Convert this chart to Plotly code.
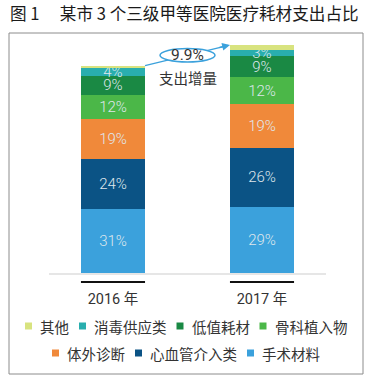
import plotly.graph_objects as go

# ---------------- data ----------------
years = ["2016 年", "2017 年"]
categories = ["手术材料", "心血管介入类", "体外诊断", "骨科植入物", "低值耗材", "消毒供应类", "其他"]
share_2016 = [31, 24, 19, 12, 9, 4, 1]
share_2017 = [29, 26, 19, 12, 9, 3, 2]
show_label = [True, True, True, True, True, True, False]
growth_pct = 9.9
growth_label = "9.9%"
growth_caption = "支出增量"
title_text = "图 1\u3000 某市 3 个三级甲等医院医疗耗材支出占比"
legend_rows = [["其他", "消毒供应类", "低值耗材", "骨科植入物"],
               ["体外诊断", "心血管介入类", "手术材料"]]

colors = {
    "手术材料": "#3ba1dc",
    "心血管介入类": "#0b5385",
    "体外诊断": "#f0893a",
    "骨科植入物": "#4bb748",
    "低值耗材": "#1a8944",
    "消毒供应类": "#29aeae",
    "其他": "#d8e37f",
}

# ---------------- geometry ----------------
W, H = 374, 385
ML, MR, MT, MB = 49, 48, 40, 112
PW, PH = W - ML - MR, H - MT - MB
BW = 0.43
YMAX = 112.3
FONT = "Roboto, 'Noto Sans CJK SC', sans-serif"
CJK = "'Noto Sans CJK SC', sans-serif"


def px(x):
    return (x - ML) / PW


def py(y):
    return (H - MB - y) / PH


scale17 = 1 + growth_pct / 100.0
tot16 = sum(share_2016)
tot17 = sum(share_2017)

fig = go.Figure()
for i, cat in enumerate(categories):
    v16 = share_2016[i] * 100.0 / tot16
    v17 = share_2017[i] * 100.0 / tot17 * scale17
    txt = [f"{share_2016[i]}%", f"{share_2017[i]}%"] if show_label[i] else ["", ""]
    fig.add_trace(go.Bar(
        x=years, y=[v16, v17], name=cat, width=BW,
        marker=dict(color=colors[cat], line=dict(width=0)),
        text=txt, textposition="inside", insidetextanchor="middle",
        textangle=0, textfont=dict(family=FONT, size=15, color="#dfe7ec", weight=300),
        showlegend=False, hoverinfo="name+y",
    ))

top16 = 100.0
top17 = 100.0 * scale17

shapes = []
# frame
shapes.append(dict(type="rect", xref="paper", yref="paper",
                   x0=px(9), x1=px(363), y0=py(374), y1=py(33),
                   line=dict(color="#8c8c8c", width=1), layer="below"))
# short black rules under each bar
for k in range(len(years)):
    shapes.append(dict(type="line", xref="x", yref="paper",
                       x0=k - BW / 2, x1=k + BW / 2, y0=py(282), y1=py(282),
                       line=dict(color="#111111", width=2)))
# growth line + ellipse
x_start, y_start = BW / 2, top16
x_end, y_end = 1 - BW / 2, top17
xm, ym = (x_start + x_end) / 2, (y_start + y_end) / 2
slope = (y_end - y_start) / (x_end - x_start)
shapes.append(dict(type="line", xref="x", yref="y",
                   x0=x_start, y0=y_start, x1=x_end - 0.03, y1=y_end - slope * 0.03,
                   line=dict(color="#3ba1dc", width=1.3)))
ex, ey = 55 / 149 / 2, 13.5 / 2.075 / 2
shapes.append(dict(type="circle", xref="x", yref="y",
                   x0=xm - ex, x1=xm + ex, y0=ym - ey, y1=ym + ey,
                   fillcolor="white", line=dict(color="#3ba1dc", width=1.5)))

annotations = []
# arrow head
annotations.append(dict(x=x_end, y=y_end, xref="x", yref="y",
                        ax=x_end - 0.08, ay=y_end - slope * 0.08,
                        axref="x", ayref="y", text="", showarrow=True,
                        arrowhead=2, arrowsize=1.2, arrowwidth=1.3, arrowcolor="#3ba1dc"))
annotations.append(dict(x=xm, y=ym, xref="x", yref="y", text=growth_label, showarrow=False,
                        font=dict(family=FONT, size=15.5, color="#333333"),
                        xanchor="center", yanchor="middle"))
annotations.append(dict(x=xm, y=ym, xref="x", yref="y", text=growth_caption, showarrow=False,
                        font=dict(family=CJK, size=14.5, color="#333333"),
                        xanchor="center", yanchor="middle", yshift=-22))
# title
annotations.append(dict(x=px(8), y=py(13), xref="paper", yref="paper", text=title_text,
                        showarrow=False, xanchor="left", yanchor="middle",
                        font=dict(family=CJK, size=16.6, color="#1a1a1a")))

# custom legend
LF = 14.5
MS = 7
row_y = [326, 353]
for r, row in enumerate(legend_rows):
    widths = [10.5 + LF * len(n) for n in row]
    total = sum(widths) + 14.5 * (len(row) - 1) + MS / 2
    x = 185.5 - total / 2 + MS / 2  # first marker centre
    for n, w in zip(row, widths):
        yc = row_y[r]
        shapes.append(dict(type="rect", xref="paper", yref="paper",
                           x0=px(x - MS / 2), x1=px(x + MS / 2),
                           y0=py(yc + MS / 2), y1=py(yc - MS / 2),
                           fillcolor=colors[n], line=dict(width=0)))
        annotations.append(dict(x=px(x + 10.5), y=py(yc), xref="paper", yref="paper",
                                text=n, showarrow=False, xanchor="left", yanchor="middle",
                                xshift=-1, font=dict(family=CJK, size=LF, color="#333333")))
        x += w + 14.5

fig.update_layout(
    width=W, height=H, barmode="stack",
    margin=dict(l=ML, r=MR, t=MT, b=MB, pad=0),
    paper_bgcolor="white", plot_bgcolor="white",
    showlegend=False,
    uniformtext=dict(minsize=15, mode="show"),
    xaxis=dict(type="category", range=[-0.4295, 1.4295], showline=True,
               linecolor="#e6e6e6", linewidth=1.5, showgrid=False, zeroline=False,
               ticks="", ticklabelstandoff=12,
               tickfont=dict(family=FONT, size=14.5, color="#333333")),
    yaxis=dict(range=[0, YMAX], visible=False, showgrid=False, zeroline=False),
    shapes=shapes, annotations=annotations,
)

fig.write_html("out.html", config={"displayModeBar": False},
               post_script="document.body.style.margin='0px';document.body.style.overflow='hidden';")
